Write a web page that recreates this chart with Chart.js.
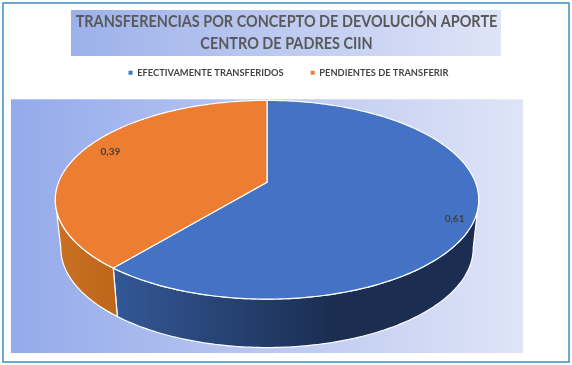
<!DOCTYPE html>
<html>
<head>
<meta charset="utf-8">
<script src="https://cdn.jsdelivr.net/npm/chart.js@4"></script>
<style>
html, body { margin: 0; padding: 0; background: #fff; }
#wrap { width: 572px; height: 365px; }
</style>
</head>
<body>
<div id="wrap"><canvas id="chart-area" width="572" height="365"></canvas></div>
<script>
var categories = ['EFECTIVAMENTE TRANSFERIDOS', 'PENDIENTES DE TRANSFERIR'];
var values = [0.61, 0.39];
var titleLines = ['TRANSFERENCIAS POR CONCEPTO DE DEVOLUCIÓN APORTE', 'CENTRO DE PADRES CIIN'];

var topColors = ['#4472c4', '#ed7d31'];
var wallColors = [['#335897', '#1b2d50'], ['#cb7126', '#c0661b']];
var labelNudge = [[12, 7], [2, -4]];

// perspective of the tilted disc, relative to the radius chart.js gives the arcs
var tilt = { sx: 1.643, sy: 0.759, lift: 0.346, c: -0.176, shrink: 0.974, depth: 0.382 };

function project(arc, t, r) {
    var u = Math.sin(t) * r, v = -Math.cos(t) * r;
    var d = 1 + tilt.c * v, R = arc.outerRadius;
    return {
        x: arc.x + R * tilt.sx * u / d,
        y: arc.y - R * tilt.lift + R * tilt.sy * v / d
    };
}

function lower(arc, p) {
    return { x: arc.x + (p.x - arc.x) * tilt.shrink, y: p.y + arc.outerRadius * tilt.depth };
}

function fmt(v) {
    return String(v).replace('.', ',');
}

function sideGradient(ctx, from, to, x0, x1) {
    var g = ctx.createLinearGradient(x0, 0, x1, 0);
    g.addColorStop(0, from);
    g.addColorStop(1, to);
    return g;
}

var pie3d = {
    id: 'pie3d',
    afterLayout: function (chart) {
        // title and legend sit centred on the page, not on the pie
        var box = chart.titleBlock, leg = chart.legend;
        box.left += 19.5;
        box.right += 19.5;
        leg.left += 21.5;
        leg.right += 21.5;
        // keep a gap between the legend and the plot
        box.top -= 12;
        box.bottom -= 12;
        leg.top -= 12;
        leg.bottom -= 12;
        // the title font is a bit wide, squeeze it to the width of the reference
        var draw = box.draw;
        box.draw = function () {
            var c = this.ctx, cx = (this.left + this.right) / 2;
            c.save();
            c.translate(cx, 0);
            c.scale(0.85, 1);
            c.translate(-cx, 0);
            draw.call(this);
            c.restore();
        };
    },
    beforeDraw: function (chart) {
        var ctx = chart.ctx, a = chart.chartArea;
        ctx.save();
        ctx.fillStyle = '#fff';
        ctx.fillRect(0, 0, chart.width, chart.height);
        ctx.strokeStyle = '#3d8fc4';
        ctx.lineWidth = 1.5;
        ctx.strokeRect(3, 3, 566, 359);
        ctx.fillStyle = sideGradient(ctx, '#9cb0ea', '#dfe4f7', 71, 501);
        ctx.fillRect(71, 10, 430, 46);
        ctx.fillStyle = sideGradient(ctx, '#94aaea', '#dfe4f7', a.left, a.right);
        ctx.fillRect(a.left, a.top, a.right - a.left, a.bottom - a.top);
        ctx.restore();
    },
    beforeDatasetsDraw: function (chart) {
        var ctx = chart.ctx;
        var arcs = chart.getDatasetMeta(0).data;
        var step = Math.PI / 180;
        var wallFrom = 100 * step, wallTo = 260 * step;
        var i, t;
        ctx.save();
        ctx.lineJoin = 'round';
        ctx.strokeStyle = '#fff';
        ctx.lineWidth = 1.2;

        // walls first, the top faces cover whatever is behind
        arcs.forEach(function (arc, n) {
            var a0 = Math.max(arc.startAngle + Math.PI / 2, wallFrom);
            var a1 = Math.min(arc.endAngle + Math.PI / 2, wallTo);
            if (a1 <= a0) return;
            var up = [], low = [];
            for (t = a0; t < a1; t += step) up.push(project(arc, t, 1));
            up.push(project(arc, a1, 1));
            for (i = 0; i < up.length; i++) low.push(lower(arc, up[i]));
            ctx.beginPath();
            up.forEach(function (p, k) { k ? ctx.lineTo(p.x, p.y) : ctx.moveTo(p.x, p.y); });
            for (i = low.length - 1; i >= 0; i--) ctx.lineTo(low[i].x, low[i].y);
            ctx.closePath();
            if (n === 0) {
                ctx.fillStyle = sideGradient(ctx, wallColors[0][0], wallColors[0][1], project(arc, arcs[0].endAngle + Math.PI / 2, 1).x, arc.x + 70);
            } else {
                ctx.fillStyle = sideGradient(ctx, wallColors[1][0], wallColors[1][1], arc.x - 212, arc.x - 154);
            }
            ctx.fill();
            ctx.stroke();
        });

        arcs.forEach(function (arc, n) {
            var a0 = arc.startAngle + Math.PI / 2, a1 = arc.endAngle + Math.PI / 2;
            var c = project(arc, 0, 0);
            ctx.beginPath();
            ctx.moveTo(c.x, c.y);
            for (t = a0; t < a1; t += step) {
                var p = project(arc, t, 1);
                ctx.lineTo(p.x, p.y);
            }
            var e = project(arc, a1, 1);
            ctx.lineTo(e.x, e.y);
            ctx.closePath();
            ctx.fillStyle = topColors[n];
            ctx.fill();
            ctx.stroke();
        });

        ctx.font = 'bold 10px Lato';
        ctx.fillStyle = '#404040';
        ctx.textAlign = 'center';
        ctx.textBaseline = 'middle';
        arcs.forEach(function (arc, n) {
            var mid = (arc.startAngle + arc.endAngle) / 2 + Math.PI / 2;
            var p = project(arc, mid, 0.85);
            ctx.fillText(fmt(values[n]), p.x + labelNudge[n][0], p.y + labelNudge[n][1]);
        });
        ctx.restore();
        return false;
    }
};

var config = {
    type: 'pie',
    data: {
        labels: categories,
        datasets: [{ data: values, backgroundColor: topColors, borderWidth: 0 }]
    },
    options: {
        responsive: false,
        animation: false,
        layout: { padding: { left: 11, right: 49, bottom: 12, top: 23 } },
        plugins: {
            title: {
                display: true,
                text: titleLines,
                color: '#595959',
                font: { family: 'Lato', size: 17, weight: 'bold', lineHeight: 1.294 },
                padding: { top: 0, bottom: -14 }
            },
            legend: {
                position: 'top',
                labels: {
                    usePointStyle: true,
                    pointStyle: 'rect',
                    boxWidth: 4,
                    boxHeight: 4,
                    padding: 27,
                    color: '#454545',
                    font: { family: 'Lato', size: 9.3, weight: 'bold' }
                }
            },
            tooltip: { enabled: false }
        }
    },
    plugins: [pie3d]
};

var ctx = document.getElementById('chart-area').getContext('2d');
window.myPie = new Chart(ctx, config);
</script>
</body>
</html>
